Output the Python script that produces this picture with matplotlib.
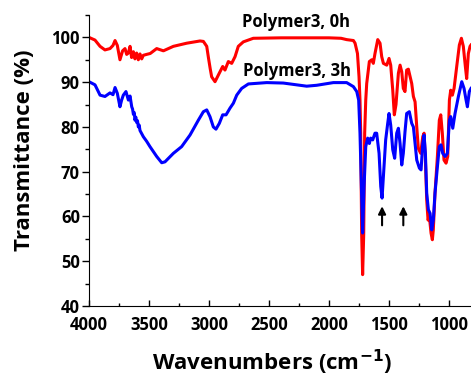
import matplotlib
matplotlib.use("Agg")
import matplotlib.pyplot as plt
from matplotlib.ticker import MultipleLocator

plt.rcParams['font.family'] = ['Open Sans', 'DejaVu Sans']
plt.rcParams['font.weight'] = 'bold'

# Polymer3, 0h (red)
w_0h = [4000, 3950, 3908, 3867, 3825, 3800, 3783, 3764, 3742, 3720, 3700, 3686, 3672, 3658,
        3645, 3630, 3617, 3603, 3589, 3575, 3561, 3547, 3520, 3490, 3436, 3380, 3297, 3186,
        3075, 3047, 3019, 3005, 2990, 2978, 2950, 2922, 2886, 2867, 2839, 2811, 2783, 2756,
        2714, 2631, 2400, 2200, 2000, 1900, 1853, 1797, 1783, 1763, 1750, 1742, 1736, 1728,
        1720, 1711, 1703, 1694, 1686, 1664, 1644, 1631, 1617, 1594, 1575, 1561, 1547, 1519,
        1500, 1486, 1469, 1456, 1442, 1422, 1408, 1394, 1381, 1367, 1353, 1339, 1311, 1297,
        1283, 1269, 1256, 1236, 1219, 1208, 1197, 1186, 1175, 1164, 1150, 1139, 1131, 1117,
        1097, 1081, 1069, 1056, 1042, 1025, 1011, 997, 986, 972, 958, 936, 914, 897, 881,
        864, 853, 839, 825, 817]
t_0h = [100.0, 99.4, 98.0, 97.2, 97.5, 98.2, 99.3, 98.2, 95.0, 97.0, 97.5, 96.2, 96.5, 98.0,
        95.5, 96.8, 95.2, 96.5, 95.0, 96.3, 95.2, 96.0, 96.2, 96.4, 97.5, 97.0, 98.0, 98.7,
        99.2, 99.1, 98.0, 95.5, 93.0, 91.2, 90.1, 91.6, 93.5, 92.7, 94.6, 94.2, 95.7, 98.0,
        99.0, 99.8, 99.9, 99.9, 99.9, 99.8, 99.5, 99.3, 98.7, 96.4, 91.2, 86.0, 78.6, 56.0,
        47.0, 56.0, 78.6, 86.0, 89.7, 94.6, 95.0, 94.2, 96.4, 99.5, 98.7, 95.7, 94.2, 93.8,
        95.3, 93.8, 88.2, 82.7, 85.0, 92.0, 93.8, 92.3, 88.6, 87.9, 92.7, 92.9, 89.7, 86.8,
        85.6, 80.0, 75.2, 74.1, 77.8, 78.6, 72.6, 63.7, 59.2, 60.0, 56.3, 54.8, 57.0, 65.2,
        73.4, 81.5, 82.7, 78.6, 72.6, 71.9, 73.4, 86.0, 88.2, 87.1, 88.6, 93.5, 98.3, 99.8,
        98.0, 93.5, 90.8, 96.4, 98.0, 98.3]

# Polymer3, 3h (blue)
w_3h = [4000, 3950, 3908, 3867, 3825, 3800, 3783, 3764, 3742, 3728, 3714, 3692, 3672, 3658,
        3644, 3637, 3630, 3623, 3617, 3610, 3603, 3596, 3589, 3582, 3575, 3547, 3520, 3492,
        3436, 3394, 3367, 3297, 3228, 3158, 3089, 3047, 3019, 2992, 2964, 2942, 2914, 2886,
        2858, 2825, 2797, 2769, 2728, 2672, 2519, 2381, 2186, 2103, 1964, 1853, 1797, 1769,
        1753, 1742, 1731, 1720, 1708, 1694, 1678, 1664, 1653, 1636, 1617, 1603, 1583, 1569,
        1558, 1547, 1528, 1511, 1500, 1486, 1469, 1453, 1436, 1422, 1408, 1394, 1381, 1367,
        1353, 1331, 1311, 1297, 1283, 1269, 1247, 1233, 1219, 1208, 1197, 1186, 1172, 1158,
        1144, 1131, 1117, 1097, 1081, 1067, 1053, 1033, 1014, 997, 986, 969, 950, 922, 894,
        875, 858, 847, 831, 817]
t_3h = [90.1, 89.4, 87.1, 86.8, 87.6, 87.2, 88.8, 87.5, 84.5, 86.0, 87.1, 87.9, 86.0, 86.9,
        84.5, 84.0, 82.8, 83.2, 81.5, 82.2, 81.0, 81.4, 80.0, 80.4, 79.2, 77.8, 76.8, 75.6,
        73.4, 72.0, 72.2, 74.1, 75.6, 78.2, 81.5, 83.4, 83.8, 82.3, 80.0, 79.5, 80.8, 82.7,
        82.7, 84.2, 85.3, 87.1, 88.6, 89.6, 89.9, 89.8, 89.1, 89.3, 89.9, 89.9, 89.0, 87.9,
        86.0, 78.6, 67.4, 56.3, 66.7, 75.6, 77.5, 76.3, 77.5, 77.1, 78.6, 78.6, 74.1, 66.7,
        64.1, 68.9, 77.1, 80.8, 83.0, 80.4, 74.9, 73.0, 78.6, 79.7, 76.3, 71.5, 74.1, 78.9,
        83.0, 83.4, 80.8, 80.0, 76.3, 72.6, 70.8, 70.4, 76.3, 78.2, 74.1, 65.2, 61.5, 60.7,
        57.0, 59.2, 65.2, 71.1, 75.6, 76.0, 74.1, 73.4, 74.1, 81.5, 82.3, 79.7, 83.0, 86.8,
        90.1, 88.6, 86.0, 84.5, 87.9, 88.6]

labels = ["Polymer3, 0h", "Polymer3, 3h"]
label_pos = [(2275, 103.5), (2265, 92.6)]
arrow_x = [1558, 1381]
arrow_y = (57.4, 62.9)

fig = plt.figure(figsize=(4.71, 3.76), dpi=100)
ax = fig.add_axes([89/471, 70/376, 1 - 89/471, (306-15)/376])

ax.plot(w_0h, t_0h, color='#ff0000', lw=2.2)
ax.plot(w_3h, t_3h, color='#0000ff', lw=2.2)

for lab, (xx, yy) in zip(labels, label_pos):
    ax.text(xx, yy, lab, ha='center', va='center', fontsize=12, fontweight='bold')

for xa in arrow_x:
    ax.annotate('', xy=(xa, arrow_y[1]), xytext=(xa, arrow_y[0]),
                arrowprops=dict(arrowstyle='-|>', color='black', lw=1.5, mutation_scale=11))

ax.set_xlim(4000, 817)
ax.set_ylim(40, 105)
ax.xaxis.set_major_locator(MultipleLocator(500))
ax.xaxis.set_minor_locator(MultipleLocator(250))
ax.yaxis.set_major_locator(MultipleLocator(10))
ax.yaxis.set_minor_locator(MultipleLocator(5))
ax.tick_params(axis='x', which='major', direction='in', length=4, width=1, labelsize=12, pad=7)
ax.tick_params(axis='x', which='minor', direction='in', length=2.5, width=1)
ax.tick_params(axis='y', which='major', direction='out', length=5, width=1, labelsize=12, pad=1.5)
ax.tick_params(axis='y', which='minor', direction='out', length=3, width=1)
for lbl in ax.get_xticklabels() + ax.get_yticklabels():
    lbl.set_fontweight('bold')

ax.spines['top'].set_visible(False)
ax.spines['right'].set_visible(False)

fig.text(25/471, 1 - 150/376, 'Transmittance (%)', rotation=90, ha='center', va='center',
         fontsize=16, fontweight='bold')
fig.text(272/471, 1 - 362/376, 'Wavenumbers (cm$^{\\mathbf{-1}}$)', ha='center', va='center',
         fontsize=16, fontweight='bold')

fig.savefig('out.png', dpi=100)
